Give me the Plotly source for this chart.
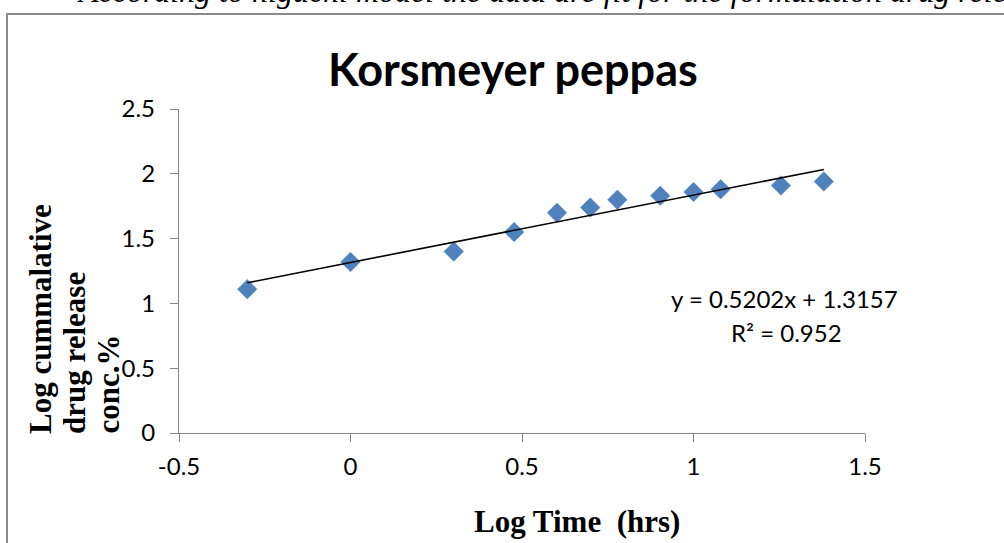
import plotly.graph_objects as go

# Log time (hrs) and log cumulative drug release (%)
log_time = [-0.301, 0.0, 0.301, 0.477, 0.602, 0.699, 0.778, 0.903, 1.0, 1.079, 1.255, 1.380]
log_release = [1.11, 1.32, 1.40, 1.55, 1.70, 1.74, 1.80, 1.83, 1.86, 1.88, 1.91, 1.94]

# Linear fit reported on the chart
slope = 0.5202
intercept = 1.3157
r_squared = 0.952

x_tickvals = [-0.5, 0, 0.5, 1, 1.5]
x_ticktext = ["-0.5", "0", "0.5", "1", "1.5"]
y_tickvals = [0, 0.5, 1, 1.5, 2, 2.5]
y_ticktext = ["0", "0.5", "1", "1.5", "2", "2.5"]

W, H = 1004, 543
L, R, T, B = 179, 865, 109, 433  # plot area in pixels


def px(x):
    return (x - L) / (R - L)


def py(y):
    return (B - y) / (B - T)


fit_x = [min(log_time), max(log_time)]
fit_y = [slope * v + intercept for v in fit_x]

fig = go.Figure()
fig.add_trace(go.Scatter(
    x=log_time, y=log_release, mode="markers",
    marker=dict(symbol="diamond", size=15, color="#4F81BD",
                line=dict(width=0.5, color="#4A7EBB")),
    showlegend=False, hoverinfo="x+y",
))
fig.add_trace(go.Scatter(
    x=fit_x, y=fit_y, mode="lines",
    line=dict(color="black", width=1.6),
    showlegend=False, hoverinfo="skip",
))

axis_common = dict(
    showline=True, linecolor="#868686", linewidth=1.3,
    ticks="outside", ticklen=8, tickcolor="#868686", tickwidth=1.3,
    showgrid=False, zeroline=False,
    tickfont=dict(family="Lato", size=24, color="black"),
)

fig.update_xaxes(range=[-0.5, 1.5], tickvals=x_tickvals, ticktext=x_ticktext,
                 ticklabelstandoff=4, **axis_common)
fig.update_yaxes(range=[0, 2.5], tickvals=y_tickvals, ticktext=y_ticktext,
                 ticklabelstandoff=10, **axis_common)

annotations = [
    # chart title
    dict(text="<b>Korsmeyer peppas</b>", x=px(513), y=py(69), xref="paper", yref="paper",
         xanchor="center", yanchor="middle", showarrow=False,
         font=dict(family="Lato", size=45, color="black")),
    # trendline equation
    dict(text=f"y = {slope}x + {intercept}", x=px(784), y=py(298), xref="paper", yref="paper",
         xanchor="center", yanchor="middle", showarrow=False,
         font=dict(family="Lato", size=24, color="black")),
    dict(text=f"R² = {r_squared}", x=px(786), y=py(332), xref="paper", yref="paper",
         xanchor="center", yanchor="middle", showarrow=False,
         font=dict(family="Lato", size=24, color="black")),
    # x-axis title
    dict(text="<b>Log Time \u00a0(hrs)</b>", x=px(577), y=py(521), xref="paper", yref="paper",
         xanchor="center", yanchor="middle", showarrow=False,
         font=dict(family="Liberation Serif", size=31, color="black")),
    # running text of the page above the chart frame
    dict(text="<i>According to higuchi model the data are fit for the formulation drug release</i>",
         x=px(75), y=py(-9), xref="paper", yref="paper",
         xanchor="left", yanchor="middle", showarrow=False,
         font=dict(family="Liberation Serif", size=32, color="black")),
]

# y-axis title, three rotated lines aligned at the bottom
for line_text, cx in [("Log cummalative", 40), ("drug release", 74), ("conc.%", 108)]:
    annotations.append(dict(
        text=f"<b>{line_text}</b>", x=px(cx), y=py(436), xref="paper", yref="paper",
        xanchor="center", yanchor="bottom", textangle=-90, showarrow=False,
        font=dict(family="Liberation Serif", size=31, color="black")))

fig.update_layout(
    width=W, height=H,
    margin=dict(l=L, r=W - R, t=T, b=H - B, pad=0),
    paper_bgcolor="white", plot_bgcolor="white",
    annotations=annotations,
    shapes=[dict(type="rect", xref="paper", yref="paper",
                 x0=px(7), x1=px(1030), y0=py(14), y1=py(580),
                 line=dict(color="#8a8a8a", width=2), fillcolor="rgba(0,0,0,0)", layer="below")],
)

fig.write_html("out.html")
